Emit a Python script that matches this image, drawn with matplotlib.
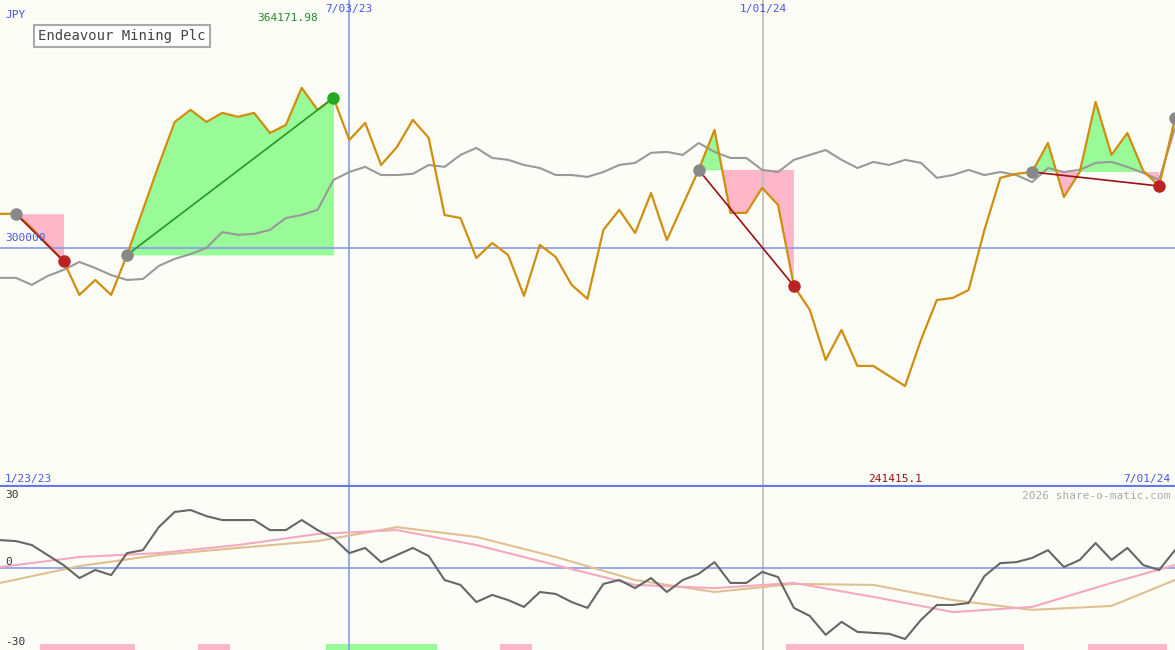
import matplotlib
matplotlib.use("Agg")
import matplotlib.pyplot as plt
import pandas as pd
import numpy as np

plt.rcParams['font.family'] = ['DejaVu Sans Mono']

start_date = "2023-01-23"
end_date = "2024-07-01"
n_points = 75
price = [314.6,314.6,308.6,301.3,294.4,279.9,286.3,279.9,297.0,316.3,335.5,353.9,359.1,353.9,357.8,356.1,357.8,349.2,352.6,368.5,
         359.1,364.2,346.2,353.5,335.5,343.2,354.8,347.1,314.1,312.8,295.7,302.1,297.0,279.5,301.3,296.1,284.2,278.2,307.7,316.3,
         306.4,323.5,303.4,318.4,333.4,350.5,315.0,315.0,325.7,318.4,283.7,273.5,252.1,264.9,249.5,249.5,245.2,240.9,260.6,277.7,
         278.6,282.0,307.7,330.0,331.7,332.5,344.9,321.8,332.5,362.5,339.8,349.2,333.0,326.5,355.6]
relative = [287.2,287.2,284.2,288.0,290.6,294.0,291.4,288.4,286.3,286.7,292.3,295.3,297.4,300.0,306.8,305.6,306.0,307.7,312.8,314.1,
            316.3,329.1,332.5,334.7,331.2,331.2,331.7,335.5,334.7,339.8,342.8,338.5,337.7,335.5,334.2,331.2,331.2,330.4,332.5,335.5,
            336.4,340.7,341.1,339.8,344.9,341.1,338.5,338.5,333.4,332.5,337.7,339.8,341.9,337.7,334.2,336.8,335.5,337.7,336.4,330.0,
            331.2,333.4,331.2,332.5,331.2,328.2,334.2,332.5,333.4,336.4,336.8,334.7,332.1,329.1,351.4]
momentum = [11.4,11.0,9.4,5.3,1.2,-4.1,-0.8,-2.9,6.1,7.3,16.7,22.9,23.7,21.2,19.6,19.6,19.6,15.5,15.5,19.6,
            15.5,12.2,6.1,8.2,2.4,5.3,8.2,4.9,-4.9,-6.9,-13.9,-11.0,-13.1,-15.9,-9.8,-10.6,-13.9,-16.3,-6.5,-4.9,
            -8.2,-4.1,-9.8,-4.9,-2.4,2.4,-6.1,-6.1,-1.6,-3.7,-16.3,-19.6,-27.3,-22.0,-26.1,-26.5,-26.9,-29.0,-21.2,-15.1,
            -15.1,-14.3,-3.3,2.0,2.4,4.1,7.3,0.4,3.3,10.2,3.3,8.2,1.2,-0.8,7.3]
smooth_idx = [0,5,10,15,20,25,30,35,40,45,50,55,60,65,70,74]
pink_osc = [0.4,4.5,6.1,9.4,13.9,15.5,9.4,1.2,-6.9,-8.2,-6.1,-11.8,-18.0,-15.9,-6.1,1.2]
tan_osc = [-6.1,0.8,5.3,8.2,11.0,16.7,12.7,4.5,-4.9,-9.8,-6.5,-6.9,-13.1,-17.1,-15.5,-4.9]
bar_sign = [0]*3+[-1]*6+[0]*4+[-1]*2+[0]*6+[1]*7+[0]*4+[-1]*2+[0]*16+[-1]*15+[0]*4+[-1]*5+[0]
segments = [(1,4),(8,21),(44,50),(65,73)]
vline_pos = [349/1175, 763/1175]

dates = pd.date_range(start_date, end_date, periods=n_points)
price = np.array(price); relative = np.array(relative)
bg = '#fdfdf8'
fig = plt.figure(figsize=(11.75, 6.5), dpi=100, facecolor=bg)
ax = fig.add_axes([0, 163/650, 1, 487/650], facecolor=bg)
ax2 = fig.add_axes([0, 0, 1, 163/650], facecolor=bg)
for a in (ax, ax2):
    a.set_xlim(dates[0], dates[-1])
    for s in a.spines.values():
        s.set_visible(False)
    a.set_xticks([]); a.set_yticks([])
    a.axvline(vline_pos[0], color='#8899ee', lw=1.2, transform=a.transAxes) if False else None
    a.plot([vline_pos[0]]*2, [0, 1], transform=a.transAxes, color='#8899ee', lw=1.2)
    a.plot([vline_pos[1]]*2, [0, 1], transform=a.transAxes, color='#bbbbbb', lw=1.2)
ax.set_ylim(197.7, 406.1)
ax.axhline(300, color='#8899ee', lw=1.2)
ax.axhline(197.7, color='#6677ee', lw=3)

for s, e in segments:
    lvl = price[s]
    x = dates[s:e+1]; y = price[s:e+1]
    ax.fill_between(x, y, lvl, where=y >= lvl, interpolate=True, color='#98fb98', lw=0)
    ax.fill_between(x, y, lvl, where=y <= lvl, interpolate=True, color='#ffb6c8', lw=0)
ax.plot(dates, relative, color='#999999', lw=1.5)
ax.plot(dates, price, color='#d18e0d', lw=1.6)
for s, e in segments:
    up = price[e] > price[s]
    c = '#229922' if up else '#991111'
    ax.plot([dates[s], dates[e]], [price[s], price[e]], color=c, lw=1.2)
    ax.plot(dates[s], price[s], 'o', color='#888888', ms=8)
    ax.plot(dates[e], price[e], 'o', color='#22aa22' if up else '#bb2222', ms=8)
ax.plot(dates[-1], price[-1], 'o', color='#888888', ms=8)

fs = 8
ax.text(5/1175, 1-18/487, 'JPY', transform=ax.transAxes, color='#4455ee', fontsize=fs)
ax.text(38/1175, 1-36/487, 'Endeavour Mining Plc', transform=ax.transAxes, fontsize=10, color='#444444',
        va='center', bbox=dict(boxstyle='square,pad=0.3', fc='white', ec='#aaaaaa', lw=1.5))
ax.text(318/1175, 1-21/487, '364171.98', transform=ax.transAxes, color='#228822', fontsize=fs, ha='right')
ax.text(349/1175, 1-9/487, '7/03/23', transform=ax.transAxes, color='#4455ee', fontsize=fs, ha='center', va='center')
ax.text(763/1175, 1-9/487, '1/01/24', transform=ax.transAxes, color='#4455ee', fontsize=fs, ha='center', va='center')
ax.text(5/1175, 1-238/487, '300000', transform=ax.transAxes, color='#4455ee', fontsize=fs, va='center')
ax.text(5/1175, 1-479/487, '1/23/23', transform=ax.transAxes, color='#4455ee', fontsize=fs, va='center')
ax.text(895/1175, 1-479/487, '241415.1', transform=ax.transAxes, color='#991111', fontsize=fs, va='center', ha='center')
ax.text(1170/1175, 1-479/487, '7/01/24', transform=ax.transAxes, color='#4455ee', fontsize=fs, va='center', ha='right')

ax2.set_ylim(-33.5, 33.1)
ax2.axhline(0, color='#8899ee', lw=1.2)
bd = [dates[i] for i in range(n_points)]
bw = (dates[1]-dates[0])
ax2.bar(bd, [2.5 if b != 0 else 0 for b in bar_sign], bottom=-33.5, width=bw,
        color=['#98fb98' if b > 0 else '#ffb6c8' for b in bar_sign])
sd = [dates[i] for i in smooth_idx]
ax2.plot(sd, tan_osc, color='#e0c090', lw=1.5)
ax2.plot(sd, pink_osc, color='#f5a8c0', lw=1.5)
ax2.plot(dates, momentum, color='#666666', lw=1.5)
ax2.text(5/1175, 1-8/163, '30', transform=ax2.transAxes, fontsize=fs, va='center', color='#333333')
ax2.text(5/1175, 1-75/163, '0', transform=ax2.transAxes, fontsize=fs, va='center', color='#333333')
ax2.text(5/1175, 1-155/163, '-30', transform=ax2.transAxes, fontsize=fs, va='center', color='#333333')
ax2.text(1170/1175, 1-9/163, '2026 share-o-matic.com', transform=ax2.transAxes, fontsize=fs, va='center', ha='right', color='#aaaaaa')

fig.savefig('out.png', dpi=100, facecolor=bg)
